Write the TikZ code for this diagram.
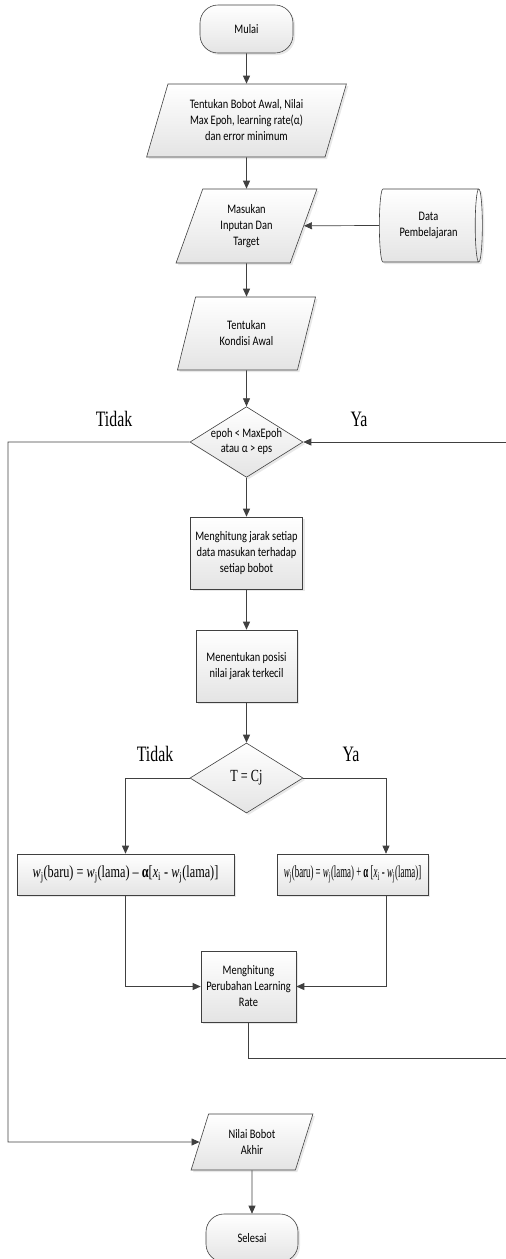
\documentclass[tikz,border=0pt]{standalone}
\usepackage{fontspec}
\usetikzlibrary{arrows.meta, shadows, shapes.geometric, positioning}
\newfontfamily\cali[FakeStretch=0.8]{Carlito}
\newfontfamily\tms[FakeStretch=0.72]{Liberation Serif}
\newfontfamily\tmsn[FakeStretch=0.52]{Liberation Serif}
\definecolor{lineGray}{HTML}{404040}
\definecolor{shadeGray}{HTML}{E4E4E4}

\tikzset{
  base/.style={draw=lineGray, line width=0.6pt, top color=white, bottom color=shadeGray,
    drop shadow={shadow xshift=2pt, shadow yshift=-2pt, fill=gray!35, opacity=0.5},
    font=\cali\fontsize{13}{16}\selectfont, align=center, inner sep=1pt},
  terminal/.style={base, rectangle, rounded corners=18pt, minimum width=93pt, minimum height=48pt},
  iobox/.style={base, trapezium, trapezium left angle=70, trapezium right angle=110,
    trapezium stretches=true},
  procbox/.style={base, rectangle},
  decision/.style={base, diamond, aspect=1.6, inner sep=0pt, minimum width=113pt, minimum height=70pt},
  datastore/.style={base, cylinder, shape border rotate=0, aspect=0.25},
  arr/.style={-{Triangle[length=8pt,width=7pt]}, draw=lineGray, line width=0.7pt},
  lbl/.style={font=\tms\fontsize{22}{24}\selectfont, inner sep=0pt}
}

\begin{document}
\begin{tikzpicture}[x=1pt, y=-1pt]
  \useasboundingbox (0,0) rectangle (506,1259);

  % alur utama
  \node[terminal] (start) at (246.5,29) {Mulai};
  \node[iobox, minimum width=200pt, minimum height=73pt] (p1) at (246.5,120.5)
    {Tentukan Bobot Awal, Nilai\\Max Epoh, learning rate(α)\\dan error minimum};
  \node[iobox, minimum width=141pt, minimum height=74pt] (p2) at (246.5,226)
    {Masukan\\Inputan Dan\\Target};
  \node[datastore, minimum width=73pt, minimum height=103pt] (data) at (428.5,225.5)
    {Data\\Pembelajaran};
  \node[iobox, minimum width=139pt, minimum height=73pt] (p3) at (246.5,333.5)
    {Tentukan\\Kondisi Awal};
  \node[decision, font=\cali\fontsize{13}{15}\selectfont] (d1) at (246.5,442)
    {epoh < MaxEpoh\\atau α > eps};
  \node[procbox, minimum width=112pt, minimum height=72pt] (b1) at (246.5,553)
    {Menghitung jarak setiap\\data masukan terhadap\\setiap bobot};
  \node[procbox, minimum width=101pt, minimum height=72pt] (b2) at (246.5,666)
    {Menentukan posisi\\nilai jarak terkecil};
  \node[decision, font=\tms\fontsize{17}{20}\selectfont] (d2) at (246.5,778) {T = Cj};

  % cabang pembaruan bobot
  \node[procbox, minimum width=217pt, minimum height=41pt, font=\tms\fontsize{17}{20}\selectfont] (lb) at (125.5,874.5)
    {\textit{w}\textsubscript{j}(baru) = \textit{w}\textsubscript{j}(lama) – \textbf{α}[\textit{x}\textsubscript{i} - \textit{w}\textsubscript{j}(lama)]};
  \node[procbox, minimum width=151pt, minimum height=41pt, font=\tmsn\fontsize{17}{20}\selectfont] (rb) at (352.5,874.5)
    {\textit{w}\textsubscript{j}(baru) = \textit{w}\textsubscript{j}(lama) + \textbf{α} [\textit{x}\textsubscript{i} - \textit{w}\textsubscript{j}(lama)]};
  \node[procbox, minimum width=95pt, minimum height=71pt] (rate) at (248.5,986.5)
    {Menghitung\\Perubahan Learning\\Rate};

  \node[iobox, minimum width=122pt, minimum height=56pt] (p4) at (252,1142) {Nilai Bobot\\Akhir};
  \node[terminal, minimum width=92pt] (stop) at (252,1238) {Selesai};

  % label percabangan
  \node[lbl] (t1) at (114,419) {Tidak};
  \node[lbl] (y1) at (359,419) {Ya};
  \node[lbl] (t2) at (155,754) {Tidak};
  \node[lbl] (y2) at (351,754) {Ya};

  \coordinate (loopR) at (512,1058);
  \coordinate (loopL) at (8,1142);

  % penghubung
  \draw[arr] (start) -- (p1);
  \draw[arr] (p1) -- (p2);
  \draw[arr] (data.west) -- (p2);
  \draw[arr] (p2) -- (p3);
  \draw[arr] (p3) -- (d1);
  \draw[arr] (d1) -- (b1);
  \draw[arr] (b1) -- (b2);
  \draw[arr] (b2) -- (d2);
  \draw[arr] (d2.west) -| (lb.north);
  \draw[arr] (d2.east) -| ([xshift=33.5pt]rb.north);
  \draw[arr] (lb.south) |- (rate.west);
  \draw[arr] ([xshift=33.5pt]rb.south) |- (rate.east);
  \draw[arr] (rate.south) |- (loopR) |- (d1.east);
  \draw[arr] (d1.west) -| (loopL) -- (p4.west);
  \draw[arr] (p4) -- (stop);
\end{tikzpicture}
\end{document}
